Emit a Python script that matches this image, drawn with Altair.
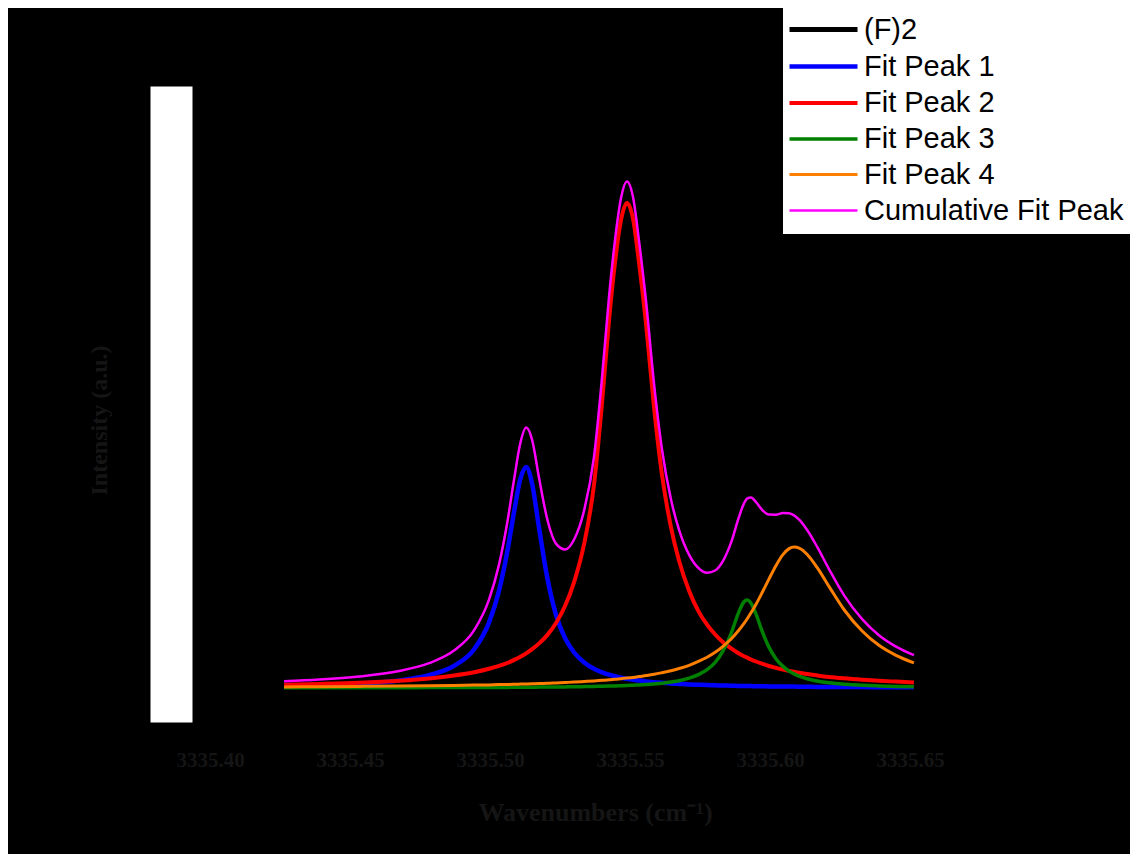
import altair as alt
import pandas as pd

# ---- data ----
wavenumber = [3335.4264, 3335.4389, 3335.4532, 3335.4675, 3335.4782, 3335.4871, 3335.4943,
              3335.4996, 3335.5032, 3335.5061, 3335.5086, 3335.5107, 3335.5129, 3335.5150,
              3335.5175, 3335.5204, 3335.5236, 3335.5268, 3335.5300, 3335.5336, 3335.5371,
              3335.5400, 3335.5425, 3335.5446, 3335.5468, 3335.5489, 3335.5511, 3335.5532,
              3335.5557, 3335.5586, 3335.5614, 3335.5646, 3335.5675, 3335.5711, 3335.5746,
              3335.5775, 3335.5804, 3335.5832, 3335.5861, 3335.5889, 3335.5907, 3335.5918,
              3335.5932, 3335.5950, 3335.5971, 3335.5996, 3335.6021, 3335.6046, 3335.6068,
              3335.6086, 3335.6104, 3335.6132, 3335.6168, 3335.6211, 3335.6264, 3335.6329,
              3335.6389, 3335.6450, 3335.6514]

fit_peak_1 = [2.2, 2.9, 4.5, 7.6, 12.8, 22.1, 38.8, 65.4, 97.5, 135.8, 176.8, 208.0, 221.0,
              204.3, 159.8, 110.5, 72.7, 49.7, 35.5, 25.6, 19.3, 15.7, 13.3, 11.7, 10.3, 9.2,
              8.2, 7.4, 6.6, 5.8, 5.2, 4.5, 4.1, 3.6, 3.2, 2.9, 2.7, 2.5, 2.3, 2.1, 2.0, 2.0,
              1.9, 1.8, 1.7, 1.6, 1.6, 1.5, 1.4, 1.4, 1.3, 1.2, 1.1, 1.1, 1.0, 0.9, 0.8, 0.7, 0.7]

fit_peak_2 = [3.2, 4.0, 5.2, 7.2, 9.5, 12.4, 15.7, 19.2, 22.1, 25.0, 28.1, 31.1, 34.6, 38.8,
              44.6, 52.9, 65.3, 82.2, 105.9, 144.3, 203.0, 286.0, 368.5, 425.2, 468.6, 485.0,
              468.6, 425.2, 364.3, 279.5, 213.2, 160.9, 127.2, 97.0, 75.9, 63.3, 53.5, 45.8,
              39.6, 34.5, 31.8, 30.4, 28.5, 26.5, 24.3, 22.0, 20.1, 18.4, 17.1, 16.2, 15.3,
              14.0, 12.6, 11.1, 9.7, 8.3, 7.2, 6.4, 5.6]

fit_peak_3 = [0.2, 0.2, 0.3, 0.3, 0.4, 0.4, 0.5, 0.6, 0.6, 0.6, 0.7, 0.7, 0.8, 0.8, 0.9, 0.9,
              1.0, 1.1, 1.2, 1.4, 1.6, 1.7, 1.9, 2.1, 2.3, 2.5, 2.8, 3.1, 3.5, 4.1, 4.8, 6.0,
              7.3, 9.8, 13.6, 18.3, 25.6, 37.1, 54.7, 76.4, 86.2, 88.0, 84.8, 73.8, 57.3, 40.9,
              29.3, 21.6, 16.9, 14.1, 11.8, 9.2, 7.0, 5.2, 3.8, 2.7, 2.1, 1.6, 1.3]

fit_peak_4 = [1.1, 1.3, 1.6, 1.9, 2.2, 2.5, 2.9, 3.1, 3.4, 3.5, 3.7, 3.9, 4.0, 4.2, 4.5, 4.7,
              5.1, 5.5, 5.9, 6.5, 7.1, 7.7, 8.2, 8.8, 9.3, 9.9, 10.6, 11.4, 12.4, 13.7, 15.3,
              17.3, 19.5, 22.7, 26.8, 30.8, 35.7, 41.7, 49.0, 58.0, 64.6, 69.0, 75.2, 83.8, 95.0,
              108.9, 122.3, 133.4, 139.4, 141.0, 139.9, 133.8, 120.6, 101.4, 78.5, 57.0, 42.7,
              32.7, 25.2]

cumulative = [6.7, 8.4, 11.5, 17.0, 24.8, 37.4, 57.8, 88.3, 123.6, 165.0, 209.2, 243.7, 260.4,
              248.1, 209.7, 169.0, 144.1, 138.5, 148.5, 177.7, 230.9, 311.1, 391.9, 447.7,
              490.5, 506.6, 490.2, 447.1, 386.8, 303.1, 238.5, 188.7, 158.1, 133.1, 119.5,
              115.3, 117.5, 127.1, 145.6, 171.0, 184.6, 189.4, 190.4, 185.9, 178.3, 173.4,
              173.3, 174.9, 174.8, 172.6, 168.3, 158.2, 141.3, 118.7, 92.9, 68.9, 52.8, 41.4, 32.8]

# measured spectrum (drawn in black, hidden on the black background)
f2_measured = list(cumulative)

series_names = ["(F)2", "Fit Peak 1", "Fit Peak 2", "Fit Peak 3", "Fit Peak 4", "Cumulative Fit Peak"]
series_colors = ["#000000", "#0000FF", "#FF0000", "#008000", "#FF8000", "#FF00FF"]
series_widths = [5, 2.5, 2.5, 2.5, 2.5, 2.5]
x_ticks = [3335.40, 3335.45, 3335.50, 3335.55, 3335.60, 3335.65]

rows = []
for name, vals in zip(series_names, [f2_measured, fit_peak_1, fit_peak_2, fit_peak_3, fit_peak_4, cumulative]):
    for x, y in zip(wavenumber, vals):
        rows.append({"series": name, "x": x, "y": y})
df = pd.DataFrame(rows)

dark = "#151515"

legend_kw = dict(title=None, orient="none", legendX=611, legendY=-84)
color = alt.Color("series:N",
                  scale=alt.Scale(domain=series_names, range=series_colors),
                  legend=alt.Legend(fillColor="white", strokeColor="black", padding=8,
                                    symbolType="M-2,0H2", symbolSize=1156,
                                    symbolOffset=14, labelOffset=21,
                                    labelFont="Liberation Sans", labelFontSize=29,
                                    labelColor="black", rowPadding=2,
                                    labelLimit=400, **legend_kw))
width_enc = alt.StrokeWidth("series:N",
                            scale=alt.Scale(domain=series_names, range=series_widths),
                            legend=alt.Legend(**legend_kw))

xenc = alt.X("x:Q",
             scale=alt.Scale(domain=[3335.386, 3335.66], nice=False, zero=False),
             axis=alt.Axis(title="Wavenumbers (cm⁻¹)", values=x_ticks, format=".2f",
                           grid=False, domain=False, ticks=False,
                           labelFont="Liberation Serif", labelFontWeight="bold",
                           labelFontSize=21, labelColor=dark, labelPadding=27,
                           titleFont="Liberation Serif", titleFontWeight="bold",
                           titleFontSize=26, titleColor=dark,
                           titleX=424, titleY=90, titleBaseline="middle"))
yenc = alt.Y("y:Q",
             scale=alt.Scale(domain=[-34, 602], nice=False, zero=False),
             axis=alt.Axis(title="Intensity (a.u.)", grid=False, labels=False, ticks=False,
                           domain=True, domainColor="white", domainWidth=42,
                           titleFont="Liberation Serif", titleFontWeight="bold",
                           titleFontSize=24, titleColor=dark,
                           titleX=-72, titleY=334, titleBaseline="middle"))

layers = []
for name in series_names:
    layers.append(
        alt.Chart(df).transform_filter(alt.datum.series == name)
        .mark_line(interpolate="monotone")
        .encode(x=xenc, y=yenc, color=color, strokeWidth=width_enc)
    )

chart = alt.layer(*layers).properties(
    width=767, height=636,
    background="black",
    padding={"left": 163, "top": 78, "right": 192, "bottom": 132},
    autosize=alt.AutoSizeParams(type="none"),
).configure_view(strokeWidth=0)

chart.save("out.html", embed_options={"renderer": "svg", "actions": False})
